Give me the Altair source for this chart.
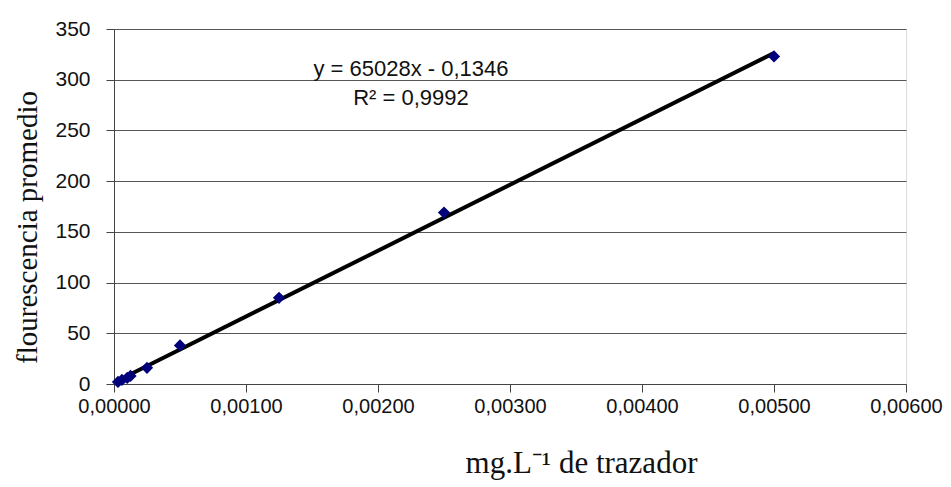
import altair as alt
import pandas as pd

conc = [0.00003, 0.00006, 0.0001, 0.000125, 0.00025, 0.0005, 0.00125, 0.0025, 0.005]
fluor = [2, 4, 6, 8, 16, 38, 85, 169, 323]
eq_text = "y = 65028x - 0,1346\nR² = 0,9992"

df = pd.DataFrame({"x": conc, "y": fluor})

xscale = alt.Scale(domain=[0, 0.006], nice=False)
yscale = alt.Scale(domain=[0, 350], nice=False)

xenc = alt.X("x:Q", scale=xscale, title="mg.L⁻¹ de trazador",
             axis=alt.Axis(values=[0, 0.001, 0.002, 0.003, 0.004, 0.005, 0.006],
                           labelExpr="replace(format(datum.value, '.5f'), '.', ',')",
                           labelFlush=False, labelOverlap=False,
                           grid=False, tickSize=8, tickColor="#444", domainColor="#444",
                           labelFont="Liberation Sans", labelFontSize=20, labelColor="#111",
                           labelPadding=4, titleFont="Liberation Serif", titleFontSize=31,
                           titleFontWeight="normal", titleColor="#111",
                           titleX=467, titleY=88, titleBaseline="alphabetic"))
yenc = alt.Y("y:Q", scale=yscale, title="flourescencia  promedio",
             axis=alt.Axis(values=list(range(0, 351, 50)), grid=True, gridColor="#555",
                           gridWidth=1.2, tickSize=8, tickColor="#444", domainColor="#444",
                           labelFont="Liberation Sans", labelFontSize=21, labelColor="#111",
                           labelPadding=16, labelFlush=False,
                           titleFont="Liberation Serif", titleFontSize=29,
                           titleFontWeight="normal", titleColor="#111",
                           titleX=-72, titleY=198))

base = alt.Chart(df)

line = base.transform_regression("x", "y", method="linear").mark_line(
    color="black", strokeWidth=4).encode(x=xenc, y=yenc)

points = base.mark_point(shape="diamond", filled=True, color="#00007a",
                         size=150, opacity=1).encode(x="x:Q", y="y:Q")

ann = alt.Chart(pd.DataFrame({"t": [eq_text]})).mark_text(
    font="Liberation Sans", fontSize=22, color="#111", align="center", baseline="middle",
    lineBreak="\n", lineHeight=29
).encode(text="t:N", x=alt.value(297), y=alt.value(40))

chart = alt.layer(line, points, ann).properties(
    width=792, height=355,
    padding={"left": 106, "top": 21, "right": 37, "bottom": 100},
    autosize=alt.AutoSizeParams(type="none"),
).configure_view(stroke="#888", strokeWidth=2).configure(background="white")

chart.save("out.html", embed_options={"renderer": "svg", "actions": False})
